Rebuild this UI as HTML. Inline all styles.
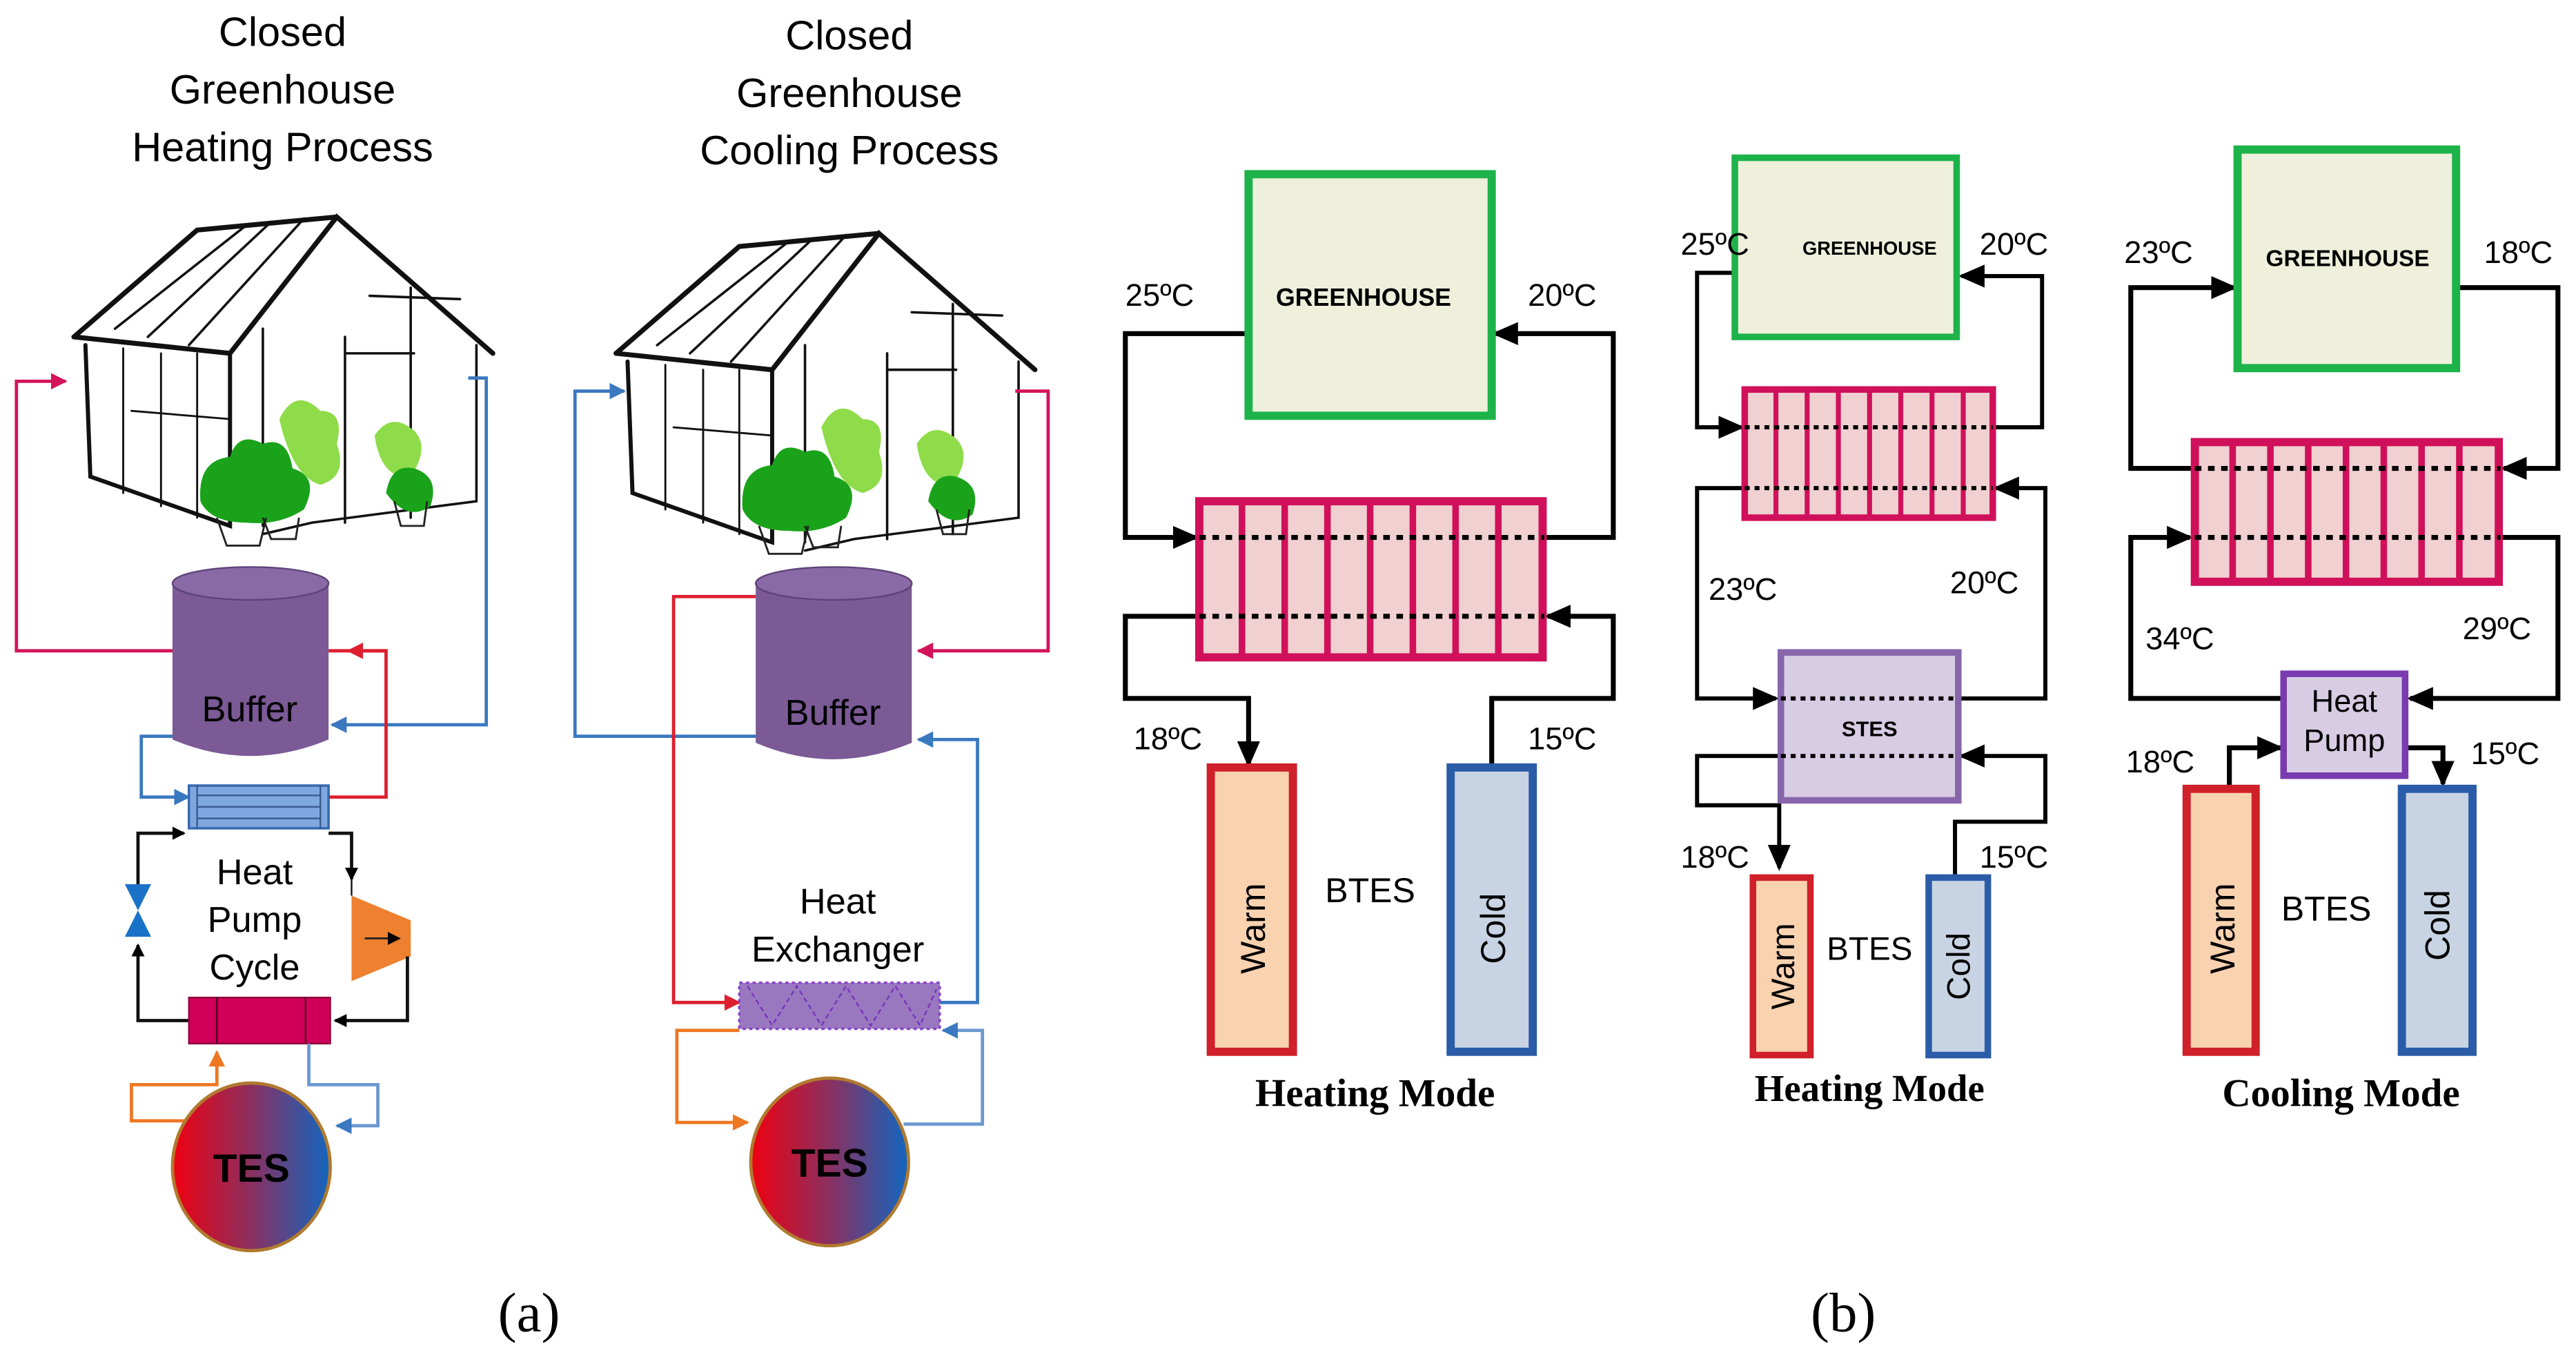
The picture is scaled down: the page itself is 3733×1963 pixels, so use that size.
<!DOCTYPE html>
<html><head><meta charset="utf-8"><style>
html,body{margin:0;padding:0;background:#fff;}
svg{display:block;}
text{font-family:"Liberation Sans",Arial,sans-serif;}
.s{font-family:"Liberation Serif",serif;}
</style></head><body>
<svg width="3733" height="1963" viewBox="0 0 1568 824.5" preserveAspectRatio="none" xmlns="http://www.w3.org/2000/svg">
<defs>
<marker id="ak" markerWidth="8" markerHeight="8" refX="7" refY="4" orient="auto" markerUnits="userSpaceOnUse"><path d="M0,0 L8,4 L0,8 Z" fill="#000"/></marker>
<marker id="ab" markerWidth="16" markerHeight="14" refX="14" refY="7" orient="auto" markerUnits="userSpaceOnUse"><path d="M0,0 L16,7 L0,14 Z" fill="#000"/></marker>
<marker id="ap" markerWidth="10" markerHeight="10" refX="9" refY="5" orient="auto" markerUnits="userSpaceOnUse"><path d="M0,0 L10,5 L0,10 Z" fill="#d4145a"/></marker>
<marker id="abl" markerWidth="10" markerHeight="10" refX="9" refY="5" orient="auto" markerUnits="userSpaceOnUse"><path d="M0,0 L10,5 L0,10 Z" fill="#3a78c0"/></marker>
<marker id="ar" markerWidth="10" markerHeight="10" refX="9" refY="5" orient="auto" markerUnits="userSpaceOnUse"><path d="M0,0 L10,5 L0,10 Z" fill="#dd1f2f"/></marker>
<marker id="ao" markerWidth="10" markerHeight="10" refX="9" refY="5" orient="auto" markerUnits="userSpaceOnUse"><path d="M0,0 L10,5 L0,10 Z" fill="#ee7722"/></marker>
<linearGradient id="tes" x1="0" x2="1" y1="0" y2="0"><stop offset="0" stop-color="#f00010"/><stop offset="0.5" stop-color="#8a3060"/><stop offset="1" stop-color="#1166c0"/></linearGradient>
<g id="gh" fill="none" stroke="#111" stroke-linecap="round">
<path d="M45,205 L120,140 L205,132" stroke-width="3"/>
<path d="M45,205 L140,215 L205,132 L300,215" stroke-width="3"/>
<path d="M52,210 L55,290 L140,320 L140,215" stroke-width="2.5"/>
<path d="M70,200 L150,137 M90,205 L165,135 M115,210 L185,133" stroke-width="1.5"/>
<path d="M75,212 L75,300 M98,215 L98,308 M120,215 L120,315 M80,250 L140,255" stroke-width="1.2"/>
<path d="M290,210 L290,305 L190,318 L160,325 M160,200 L160,320 M210,205 L210,318 M250,175 L250,315 M210,215 L252,215 M225,180 L280,182" stroke-width="1.5"/>
</g>
<g id="plants">
<path d="M122,305 Q120,280 140,278 Q145,262 160,270 Q175,265 178,285 Q195,290 185,310 Q170,320 150,318 Q128,318 122,305Z" fill="#1aa31a"/>
<path d="M170,255 Q180,235 195,250 Q210,250 205,270 Q212,290 195,295 Q178,290 170,255Z" fill="#8fdc4a"/>
<path d="M228,265 Q238,250 252,262 Q262,272 250,290 Q232,292 228,265Z" fill="#8fdc4a"/>
<path d="M235,300 Q238,282 252,285 Q268,290 262,308 Q248,318 235,300Z" fill="#1aa31a"/>
<path d="M132,315 L138,332 L158,332 L162,315 M160,315 L165,328 L180,328 L182,315 M240,305 L244,320 L258,320 L260,305" fill="none" stroke="#222" stroke-width="1.2"/>
</g>
</defs>

<!-- ===== (a) left ===== -->
<text x="172" y="28" font-size="25" text-anchor="middle">Closed</text>
<text x="172" y="63" font-size="25" text-anchor="middle">Greenhouse</text>
<text x="172" y="98" font-size="25" text-anchor="middle">Heating Process</text>
<use href="#gh"/><use href="#plants"/>

<polyline points="105,396 10,396 10,232 40,232" fill="none" stroke="#d4145a" stroke-width="2" marker-end="url(#ap)"/>
<polyline points="285,230 296,230 296,441 202,441" fill="none" stroke="#3a78c0" stroke-width="2" marker-end="url(#abl)"/>
<polyline points="200,396 235,396 235,485 200,485" fill="none" stroke="#dd1f2f" stroke-width="2"/>
<polyline points="202,396" fill="none"/>
<path d="M235,396 L212,396" stroke="#dd1f2f" stroke-width="2" marker-end="url(#ar)"/>
<polyline points="112,448 86,448 86,485 115,485" fill="none" stroke="#3a78c0" stroke-width="2" marker-end="url(#abl)"/>
<!-- buffer -->
<path d="M105,355 L105,450 Q152,470 200,450 L200,355 Z" fill="#7b5a96"/>
<ellipse cx="152.5" cy="355" rx="47.5" ry="10" fill="#8a6aa6" stroke="#5e437a" stroke-width="1"/>
<text x="152" y="439" font-size="22" text-anchor="middle">Buffer</text>
<!-- hx blue -->
<rect x="115" y="478" width="85" height="26" fill="#7fa8e0" stroke="#3a6ab0" stroke-width="1.5"/>
<path d="M120,484 H195 M120,491 H195 M120,498 H195 M120,478 V504 M195,478 V504" stroke="#3a5a90" stroke-width="1"/>
<!-- heat pump cycle -->
<text x="155" y="538" font-size="22" text-anchor="middle">Heat</text>
<text x="155" y="567" font-size="22" text-anchor="middle">Pump</text>
<text x="155" y="596" font-size="22" text-anchor="middle">Cycle</text>
<polyline points="200,507 214,507 214,535" fill="none" stroke="#111" stroke-width="2" marker-end="url(#ak)"/>
<polyline points="214,535 214,545" stroke="#111" stroke-width="1"/>
<path d="M214,545 L250,560 L250,582 L214,597 Z" fill="#ee8030"/>
<path d="M222,571 L243,571" stroke="#222" stroke-width="1.2" marker-end="url(#ak)"/>
<polyline points="248,582 248,621 204,621" fill="none" stroke="#111" stroke-width="2" marker-end="url(#ak)"/>
<polyline points="115,621 84,621 84,575" fill="none" stroke="#111" stroke-width="2" marker-end="url(#ak)"/>
<polyline points="84,540 84,507 112,507" fill="none" stroke="#111" stroke-width="2" marker-end="url(#ak)"/>
<path d="M76,538 L92,538 L76,570 L92,570 Z" fill="#1a72c8"/>
<rect x="115" y="607" width="86" height="28" fill="#d0005a" stroke="#90003a" stroke-width="1"/>
<path d="M132,607 V635 M186,607 V635" stroke="#500020" stroke-width="1"/>
<polyline points="135,682 80,682 80,660 132,660 132,640" fill="none" stroke="#ee7722" stroke-width="2" marker-end="url(#ao)"/>
<polyline points="188,635 188,660 230,660 230,685 205,685" fill="none" stroke="#6a98d0" stroke-width="2" marker-end="url(#abl)"/>
<ellipse cx="153" cy="710" rx="48" ry="51" fill="url(#tes)" stroke="#b07a30" stroke-width="2"/>
<text x="153" y="719" font-size="24" font-weight="bold" text-anchor="middle">TES</text>

<!-- ===== (a) right ===== -->
<text x="517" y="30" font-size="25" text-anchor="middle">Closed</text>
<text x="517" y="65" font-size="25" text-anchor="middle">Greenhouse</text>
<text x="517" y="100" font-size="25" text-anchor="middle">Cooling Process</text>
<use href="#gh" transform="translate(330,10)"/><use href="#plants" transform="translate(330,5)"/>
<polyline points="618,238 638,238 638,396 559,396" fill="none" stroke="#d4145a" stroke-width="2" marker-end="url(#ap)"/>
<polyline points="460,448 350,448 350,238 380,238" fill="none" stroke="#3a78c0" stroke-width="2" marker-end="url(#abl)"/>
<polyline points="460,363 410,363 410,610 450,610" fill="none" stroke="#dd1f2f" stroke-width="2" marker-end="url(#ar)"/>
<polyline points="572,610 595,610 595,450 559,450" fill="none" stroke="#3a78c0" stroke-width="2" marker-end="url(#abl)"/>
<path d="M460,355 L460,452 Q507,472 555,452 L555,355 Z" fill="#7b5a96"/>
<ellipse cx="507.5" cy="355" rx="47.5" ry="10" fill="#8a6aa6" stroke="#5e437a" stroke-width="1"/>
<text x="507" y="441" font-size="22" text-anchor="middle">Buffer</text>
<text x="510" y="556" font-size="22" text-anchor="middle">Heat</text>
<text x="510" y="585" font-size="22" text-anchor="middle">Exchanger</text>
<rect x="450" y="598" width="122" height="28" fill="#9a78c0" stroke="#8844cc" stroke-width="1.5" stroke-dasharray="2,2"/>
<polyline points="455,600 470,624 485,600 500,624 515,600 530,624 545,600 560,624 570,602" fill="none" stroke="#7733bb" stroke-width="1" stroke-dasharray="3,2"/>
<polyline points="450,627 412,627 412,683 455,683" fill="none" stroke="#ee7722" stroke-width="2" marker-end="url(#ao)"/>
<polyline points="550,684 598,684 598,627 574,627" fill="none" stroke="#6a98d0" stroke-width="2" marker-end="url(#abl)"/>
<ellipse cx="505" cy="707" rx="48" ry="51" fill="url(#tes)" stroke="#b07a30" stroke-width="2"/>
<text x="505" y="716" font-size="24" font-weight="bold" text-anchor="middle">TES</text>

<text class="s" x="322" y="810" font-size="34" text-anchor="middle">(a)</text>
<text class="s" x="1122" y="810" font-size="34" text-anchor="middle">(b)</text>

<!-- ===== (b) heating 1 ===== -->
<g fill="none" stroke="#000" stroke-width="3">
<polyline points="760,203 685,203 685,327 728,327" marker-end="url(#ab)"/>
<polyline points="940,327 982,327 982,203 910,203" marker-end="url(#ab)"/>
<polyline points="730,375 685,375 685,425 760,425 760,465" marker-end="url(#ab)"/>
<polyline points="908,465 908,425 982,425 982,375 942,375" marker-end="url(#ab)"/>
</g>
<rect x="760" y="106" width="148" height="147" fill="#eef0dc" stroke="#1db34a" stroke-width="5"/>
<text x="830" y="186" font-size="15" font-weight="bold" text-anchor="middle">GREENHOUSE</text>
<rect x="730" y="305" width="209" height="95" fill="#f0d0d0" stroke="#d0105a" stroke-width="5"/>
<path d="M756,305 V400 M782,305 V400 M808,305 V400 M834,305 V400 M860,305 V400 M886,305 V400 M912,305 V400" stroke="#d0105a" stroke-width="4"/>
<path d="M730,327 H940 M730,375 H940" stroke="#000" stroke-width="3" stroke-dasharray="4,4"/>
<text x="685" y="186" font-size="19">25ºC</text>
<text x="930" y="186" font-size="19">20ºC</text>
<text x="690" y="456" font-size="19">18ºC</text>
<text x="930" y="456" font-size="19">15ºC</text>
<rect x="737" y="467" width="50" height="173" fill="#f9d2b0" stroke="#d0202a" stroke-width="5"/>
<rect x="883" y="467" width="50" height="173" fill="#c8d4e4" stroke="#2a5ca8" stroke-width="5"/>
<text transform="translate(770,565) rotate(-90)" font-size="21" text-anchor="middle">Warm</text>
<text transform="translate(916,565) rotate(-90)" font-size="21" text-anchor="middle">Cold</text>
<text x="834" y="549" font-size="21" text-anchor="middle">BTES</text>
<text class="s" x="837" y="673" font-size="24" font-weight="bold" text-anchor="middle">Heating Mode</text>

<!-- ===== (b) heating 2 ===== -->
<g fill="none" stroke="#000" stroke-width="2.5">
<polyline points="1055,166 1033,166 1033,260 1060,260" marker-end="url(#ab)"/>
<polyline points="1213,260 1243,260 1243,168 1194,168" marker-end="url(#ab)"/>
<polyline points="1062,297 1033,297 1033,425 1081,425" marker-end="url(#ab)"/>
<polyline points="1192,425 1245,425 1245,297 1215,297" marker-end="url(#ab)"/>
<polyline points="1083,460 1033,460 1033,490 1083,490 1083,528" marker-end="url(#ab)"/>
<polyline points="1190,532 1190,500 1245,500 1245,460 1194,460" marker-end="url(#ab)"/>
</g>
<rect x="1056" y="96" width="135" height="109" fill="#eef0dc" stroke="#1db34a" stroke-width="4"/>
<text x="1138" y="155" font-size="11.5" font-weight="bold" text-anchor="middle">GREENHOUSE</text>
<rect x="1062" y="237" width="151" height="78" fill="#f0d0d0" stroke="#d0105a" stroke-width="4"/>
<path d="M1081,237 V315 M1100,237 V315 M1119,237 V315 M1138,237 V315 M1157,237 V315 M1176,237 V315 M1195,237 V315" stroke="#d0105a" stroke-width="3"/>
<path d="M1062,260 H1213 M1062,297 H1213" stroke="#000" stroke-width="2.5" stroke-dasharray="3,3"/>
<rect x="1084" y="397" width="108" height="90" fill="#d8cce4" stroke="#8866aa" stroke-width="4"/>
<path d="M1084,425 H1192 M1084,460 H1192" stroke="#000" stroke-width="2.5" stroke-dasharray="3,3"/>
<text x="1138" y="448" font-size="13" font-weight="bold" text-anchor="middle">STES</text>
<text x="1023" y="155" font-size="19">25ºC</text>
<text x="1205" y="155" font-size="19">20ºC</text>
<text x="1040" y="365" font-size="19">23ºC</text>
<text x="1187" y="361" font-size="19">20ºC</text>
<text x="1023" y="528" font-size="19">18ºC</text>
<text x="1205" y="528" font-size="19">15ºC</text>
<rect x="1067" y="534" width="35" height="108" fill="#f9d2b0" stroke="#d0202a" stroke-width="4"/>
<rect x="1174" y="534" width="36" height="108" fill="#c8d4e4" stroke="#2a5ca8" stroke-width="4"/>
<text transform="translate(1092,588) rotate(-90)" font-size="20" text-anchor="middle">Warm</text>
<text transform="translate(1199,588) rotate(-90)" font-size="20" text-anchor="middle">Cold</text>
<text x="1138" y="584" font-size="20" text-anchor="middle">BTES</text>
<text class="s" x="1138" y="670" font-size="23" font-weight="bold" text-anchor="middle">Heating Mode</text>

<!-- ===== (b) cooling ===== -->
<g fill="none" stroke="#000" stroke-width="3">
<polyline points="1335,285 1297,285 1297,175 1360,175" marker-end="url(#ab)"/>
<polyline points="1495,175 1557,175 1557,285 1524,285" marker-end="url(#ab)"/>
<polyline points="1390,425 1297,425 1297,327 1333,327" marker-end="url(#ab)"/>
<polyline points="1522,327 1557,327 1557,425 1467,425" marker-end="url(#ab)"/>
<polyline points="1357,480 1357,455 1388,455" marker-end="url(#ab)"/>
<polyline points="1465,455 1487,455 1487,477" marker-end="url(#ab)"/>
</g>
<rect x="1362" y="91" width="133" height="133" fill="#eef0dc" stroke="#1db34a" stroke-width="5"/>
<text x="1429" y="162" font-size="14" font-weight="bold" text-anchor="middle">GREENHOUSE</text>
<rect x="1336" y="269" width="185" height="85" fill="#f0d0d0" stroke="#d0105a" stroke-width="5"/>
<path d="M1359,269 V354 M1382,269 V354 M1405,269 V354 M1428,269 V354 M1451,269 V354 M1474,269 V354 M1497,269 V354" stroke="#d0105a" stroke-width="4"/>
<path d="M1336,285 H1522 M1336,327 H1522" stroke="#000" stroke-width="3" stroke-dasharray="4,4"/>
<rect x="1390" y="410" width="74" height="62" fill="#d8cce4" stroke="#7a3ab0" stroke-width="4"/>
<text x="1427" y="433" font-size="19" text-anchor="middle">Heat</text>
<text x="1427" y="457" font-size="19" text-anchor="middle">Pump</text>
<text x="1293" y="160" font-size="19">23ºC</text>
<text x="1512" y="160" font-size="19">18ºC</text>
<text x="1306" y="395" font-size="19">34ºC</text>
<text x="1499" y="389" font-size="19">29ºC</text>
<text x="1294" y="470" font-size="19">18ºC</text>
<text x="1504" y="465" font-size="19">15ºC</text>
<rect x="1331" y="480" width="42" height="160" fill="#f9d2b0" stroke="#d0202a" stroke-width="5"/>
<rect x="1462" y="480" width="43" height="160" fill="#c8d4e4" stroke="#2a5ca8" stroke-width="5"/>
<text transform="translate(1360,565) rotate(-90)" font-size="21" text-anchor="middle">Warm</text>
<text transform="translate(1491,563) rotate(-90)" font-size="21" text-anchor="middle">Cold</text>
<text x="1416" y="560" font-size="21" text-anchor="middle">BTES</text>
<text class="s" x="1425" y="673" font-size="24" font-weight="bold" text-anchor="middle">Cooling Mode</text>
</svg>
</body></html>
